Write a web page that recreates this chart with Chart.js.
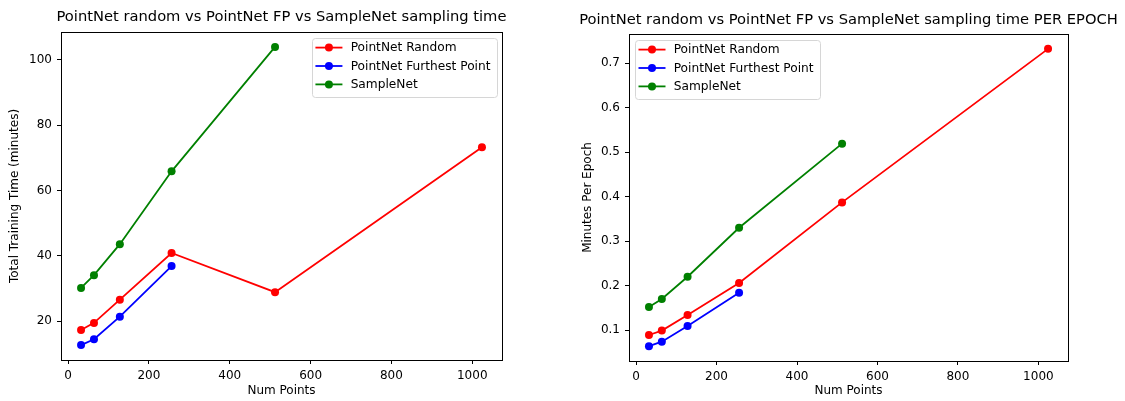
<!DOCTYPE html>
<html lang="en">
<head>
    <meta charset="UTF-8">
    <title>Sampling time</title>
    <script src="https://cdn.jsdelivr.net/npm/chart.js"></script>
    <style>
        body { margin: 0; background: #fff; width: 1125px; height: 401px; overflow: hidden; position: relative; }
        canvas { position: absolute; top: 0; }
        #totalChart { left: 0; }
        #epochChart { left: 540px; }
    </style>
</head>
<body>
    <canvas id="totalChart" width="540" height="401"></canvas>
    <canvas id="epochChart" width="585" height="401"></canvas>

    <script>
        // Num points sampled
        const numPoints = [32, 64, 128, 256, 512, 1024];

        // Total training time (minutes)
        const totalRandom = [17.3, 19.5, 26.6, 40.9, 28.9, 73.3];
        const totalFurthest = [12.7, 14.5, 21.4, 36.9];
        const totalSampleNet = [30.2, 34.1, 43.6, 65.9, 104.0];

        // Minutes per epoch
        const epochRandom = [0.089, 0.099, 0.134, 0.206, 0.387, 0.732];
        const epochFurthest = [0.064, 0.074, 0.109, 0.184];
        const epochSampleNet = [0.152, 0.170, 0.220, 0.330, 0.519];

        // Tick labels
        const xTicks = [0, 200, 400, 600, 800, 1000];
        const totalTicks = [20, 40, 60, 80, 100];
        const epochTicks = [0.1, 0.2, 0.3, 0.4, 0.5, 0.6, 0.7];

        const seriesNames = ['PointNet Random', 'PointNet Furthest Point', 'SampleNet'];
        const seriesColors = ['#ff0000', '#0000ff', '#008000'];

        Chart.defaults.font.family = "'DejaVu Sans', sans-serif";
        Chart.defaults.font.size = 12;
        Chart.defaults.color = '#000';

        function toPoints(ys) {
            return ys.map((y, i) => ({ x: numPoints[i], y: y }));
        }

        // matplotlib style 5% margins round the data
        function padRange(values) {
            const lo = Math.min(...values), hi = Math.max(...values);
            const m = (hi - lo) * 0.05;
            return { min: lo - m, max: hi + m };
        }

        function makeDatasets(seriesList) {
            return seriesList.map((ys, i) => ({
                label: seriesNames[i],
                data: toPoints(ys),
                borderColor: seriesColors[i],
                backgroundColor: seriesColors[i],
                borderWidth: 1.8,
                pointRadius: 4,
                pointHoverRadius: 4,
                pointBorderWidth: 0,
                tension: 0
            }));
        }

        // Title above the plot, full frame and a matplotlib-like legend box
        const decorPlugin = {
            id: 'decor',
            afterDraw(chart, args, opts) {
                const ctx = chart.ctx;
                const a = chart.chartArea;
                ctx.save();

                ctx.strokeStyle = '#000';
                ctx.lineWidth = 1;
                ctx.strokeRect(Math.round(a.left) + 0.5, Math.round(a.top) + 0.5,
                    Math.round(a.right - a.left), Math.round(a.bottom - a.top));

                ctx.fillStyle = '#000';
                ctx.font = "14.7px 'DejaVu Sans'";
                ctx.textAlign = 'center';
                ctx.textBaseline = 'middle';
                ctx.fillText(opts.title, (a.left + a.right) / 2, opts.titleY);

                // legend
                ctx.font = "12.2px 'DejaVu Sans'";
                const sets = chart.data.datasets;
                let textW = 0;
                sets.forEach(ds => { textW = Math.max(textW, ctx.measureText(ds.label).width); });
                const boxW = 38.7 + textW + 6;
                const boxH = 59.4;
                const bx = opts.legendSide === 'right' ? a.right - 5.5 - boxW : a.left + 6;
                const by = a.top + 6;
                ctx.beginPath();
                ctx.roundRect(Math.round(bx) + 0.5, Math.round(by) + 0.5, Math.round(boxW), Math.round(boxH), 3);
                ctx.fillStyle = 'rgba(255,255,255,0.8)';
                ctx.fill();
                ctx.strokeStyle = '#d6d6d6';
                ctx.lineWidth = 1;
                ctx.stroke();

                ctx.textAlign = 'left';
                sets.forEach((ds, i) => {
                    const y = by + 9.6 + i * 18.4;
                    ctx.strokeStyle = ds.borderColor;
                    ctx.lineWidth = 1.8;
                    ctx.beginPath();
                    ctx.moveTo(bx + 3.5, y);
                    ctx.lineTo(bx + 30.5, y);
                    ctx.stroke();
                    ctx.fillStyle = ds.borderColor;
                    ctx.beginPath();
                    ctx.arc(bx + 17, y, 4, 0, Math.PI * 2);
                    ctx.fill();
                    ctx.fillStyle = '#000';
                    ctx.fillText(ds.label, bx + 38.7, y + 0.5);
                });
                ctx.restore();
            }
        };

        function makeChart(id, cfg) {
            const xr = padRange(numPoints);
            const yr = padRange(cfg.allY);
            return new Chart(document.getElementById(id), {
                type: 'line',
                data: { datasets: makeDatasets(cfg.series) },
                plugins: [decorPlugin],
                options: {
                    responsive: false,
                    maintainAspectRatio: false,
                    animation: false,
                    layout: { padding: cfg.padding },
                    plugins: {
                        legend: { display: false },
                        tooltip: { enabled: false },
                        decor: { title: cfg.title, titleY: cfg.titleY, legendSide: cfg.legendSide }
                    },
                    scales: {
                        x: {
                            type: 'linear',
                            min: xr.min,
                            max: xr.max,
                            afterBuildTicks: s => { s.ticks = xTicks.map(v => ({ value: v })); },
                            afterFit: s => { s.height = cfg.xHeight; },
                            ticks: { padding: 5, maxRotation: 0, callback: v => String(v) },
                            grid: { drawOnChartArea: false, drawTicks: true, tickLength: 4, color: '#000' },
                            border: { display: false },
                            title: { display: true, text: 'Num Points', padding: 0 }
                        },
                        y: {
                            type: 'linear',
                            min: yr.min,
                            max: yr.max,
                            afterBuildTicks: s => { s.ticks = cfg.yTicks.map(v => ({ value: v })); },
                            afterFit: s => { s.width = cfg.yWidth; },
                            ticks: { padding: 5, callback: cfg.yFormat },
                            grid: { drawOnChartArea: false, drawTicks: true, tickLength: 4, color: '#000' },
                            border: { display: false },
                            title: { display: true, text: cfg.yLabel, padding: 0 }
                        }
                    }
                }
            });
        }

        makeChart('totalChart', {
            series: [totalRandom, totalFurthest, totalSampleNet],
            allY: [...totalRandom, ...totalFurthest, ...totalSampleNet],
            yTicks: totalTicks,
            yFormat: v => String(v),
            yLabel: 'Total Training Time (minutes)',
            title: 'PointNet random vs PointNet FP vs SampleNet sampling time',
            titleY: 17.3,
            legendSide: 'right',
            padding: { left: 8, top: 32, right: 38, bottom: 3.3 },
            yWidth: 53,
            xHeight: 37.7
        });

        makeChart('epochChart', {
            series: [epochRandom, epochFurthest, epochSampleNet],
            allY: [...epochRandom, ...epochFurthest, ...epochSampleNet],
            yTicks: epochTicks,
            yFormat: v => v.toFixed(1),
            yLabel: 'Minutes Per Epoch',
            title: 'PointNet random vs PointNet FP vs SampleNet sampling time PER EPOCH',
            titleY: 20,
            legendSide: 'left',
            padding: { left: 41, top: 34, right: 57, bottom: 3.4 },
            yWidth: 48,
            xHeight: 36.6
        });
    </script>
</body>
</html>
